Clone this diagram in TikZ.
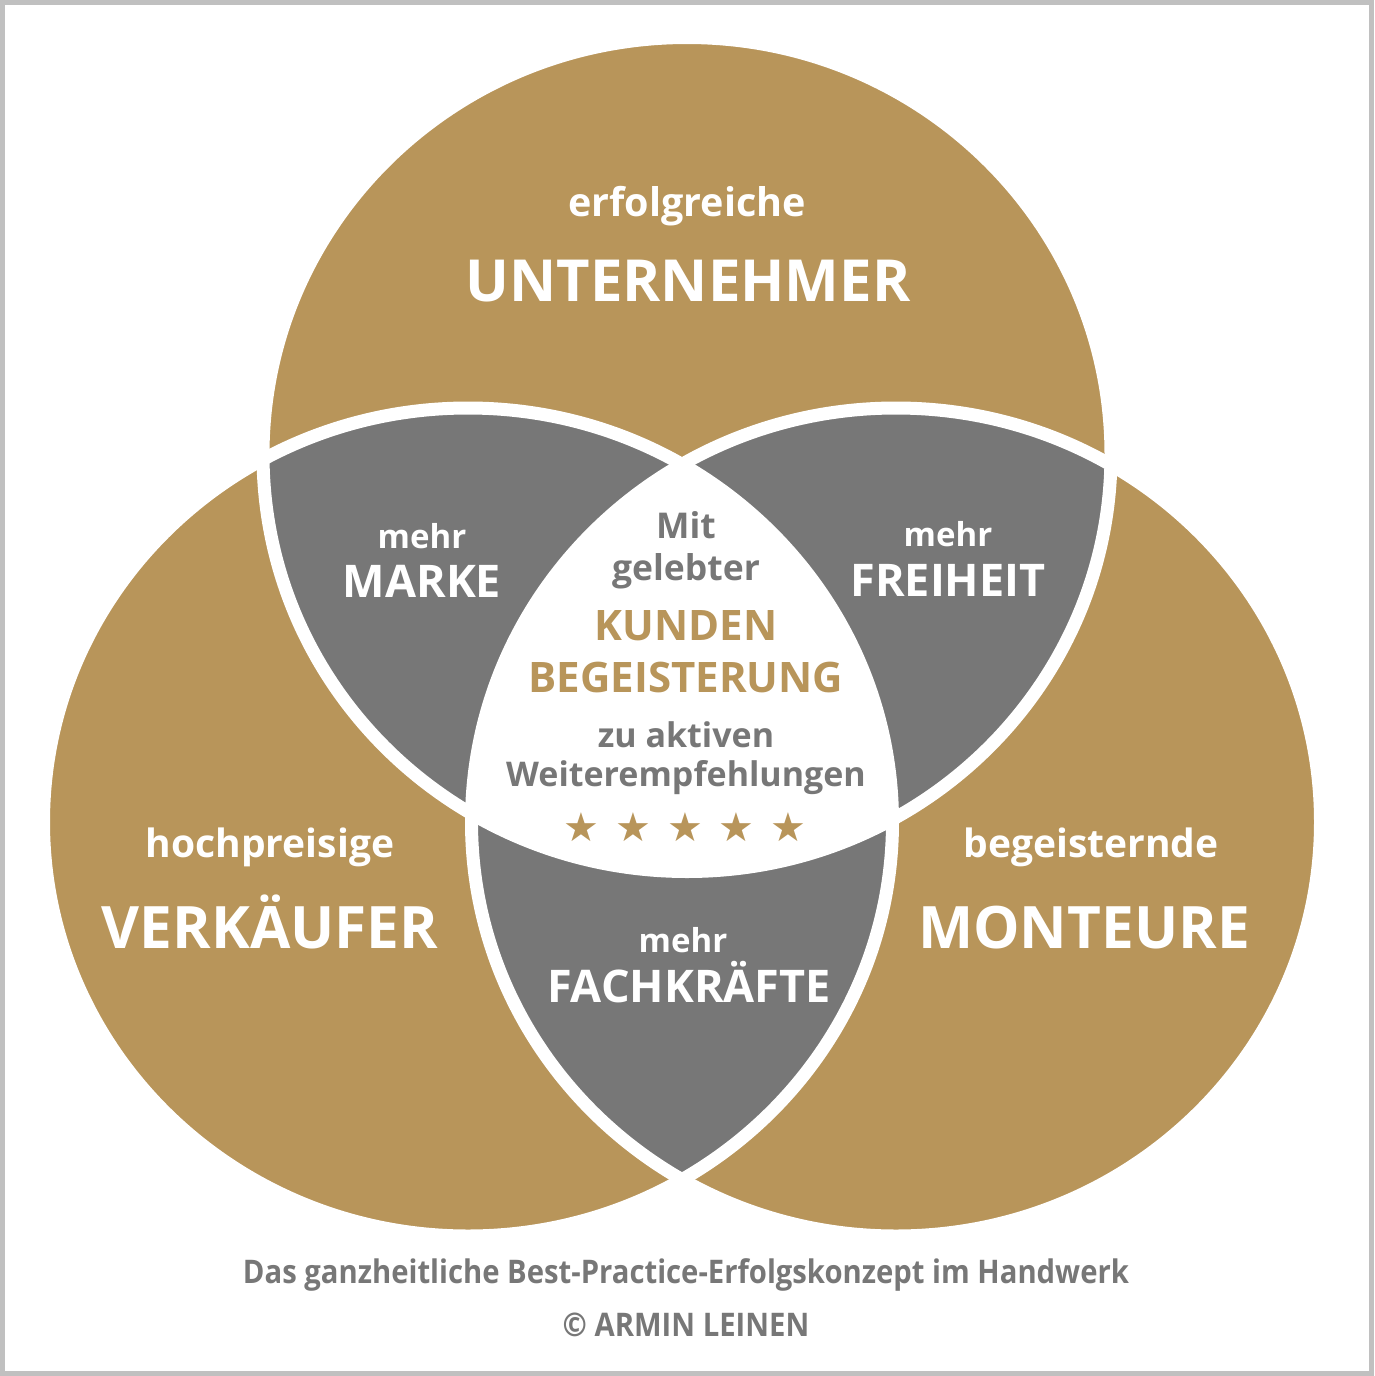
\documentclass[tikz,border=0pt]{standalone}
\usepackage{fontspec}
\setmainfont{Open Sans}
\newfontfamily\narrowfont[FakeStretch=0.9]{Open Sans}
\newfontfamily\starfont{DejaVu Sans}
\newcommand*{\fsize}[1]{\fontsize{#1}{#1}\selectfont}
\definecolor{gold}{HTML}{B8955A}
\definecolor{grey}{HTML}{777777}
\definecolor{framegrey}{HTML}{C0C0C0}
\usepackage{tikz}
\tikzstyle{base}=[x=1pt, y=-1pt, inner sep=0pt, outer sep=0pt]
\tikzstyle{label}=[anchor=base, align=center, font=\bfseries]
\tikzstyle{rim}=[draw=white, line width=13pt]

\begin{document}
\begin{tikzpicture}[base]
    \path [use as bounding box] (0,0) rectangle (1374,1376);
    % circles
        \fill [gold] (687,454.5) ellipse (424 and 417);
        \fill [gold] (468,822) ellipse (424.5 and 414);
        \fill [gold] (896,822) ellipse (424.5 and 414);
    % pairwise overlaps
        \begin{scope}
            \clip (687,454.5) ellipse (424 and 417);
            \fill [grey] (468,822) ellipse (424.5 and 414);
            \fill [grey] (896,822) ellipse (424.5 and 414);
        \end{scope}
        \begin{scope}
            \clip (468,822) ellipse (424.5 and 414);
            \fill [grey] (896,822) ellipse (424.5 and 414);
        \end{scope}
    % centre
        \begin{scope}
            \clip (687,454.5) ellipse (424 and 417);
            \clip (468,822) ellipse (424.5 and 414);
            \fill [white] (896,822) ellipse (424.5 and 414);
        \end{scope}
        \draw [rim] (687,454.5) ellipse (424 and 417);
        \draw [rim] (468,822) ellipse (424.5 and 414);
        \draw [rim] (896,822) ellipse (424.5 and 414);
        \draw [framegrey, line width=5pt] (2.5,2.5) rectangle (1371.5,1373.5);
    % texts
        \node [label, white] (untertop) at (687,216) {\fsize{39.5}erfolgreiche};
        \node [label, white] (unternehmer) at (688,301) {\fsize{58}UNTERNEHMER};
        \node [label, white] (markeTop) at (422,548) {\fsize{33}mehr};
        \node [label, white] (marke) at (422,597) {\fsize{45}MARKE};
        \node [label, white] (freiheitTop) at (948,546) {\fsize{33}mehr};
        \node [label, white] (freiheit) at (948,596) {\fsize{45}FREIHEIT};
        \node [label, grey] (mit) at (686,538) {\fsize{35.5}Mit};
        \node [label, grey] (gelebter) at (686,580) {\fsize{35.5}gelebter};
        \node [label, gold] (kunden) at (686,640) {\fsize{42}KUNDEN};
        \node [label, gold] (begeisterung) at (686,692) {\fsize{42}BEGEISTERUNG};
        \node [label, grey] (aktiven) at (686,747) {\fsize{34}zu aktiven};
        \node [label, grey] (empfehlungen) at (686,786) {\fsize{34}Weiterempfehlungen};
        \node [gold] (stars) at (685,827) {\starfont\fsize{40}★\hskip16pt★\hskip16pt★\hskip16pt★\hskip16pt★};
        \node [label, white] (verkTop) at (270,857) {\fsize{39}hochpreisige};
        \node [label, white] (verkaeufer) at (270,948) {\fsize{58.5}VERKÄUFER};
        \node [label, white] (montTop) at (1091,857) {\fsize{39}begeisternde};
        \node [label, white] (monteure) at (1084,948) {\fsize{58.5}MONTEURE};
        \node [label, white] (fachTop) at (683,952) {\fsize{33}mehr};
        \node [label, white] (fachkraefte) at (689,1002) {\fsize{45}FACHKRÄFTE};
        \node [label, grey] (footer) at (686,1283) {\narrowfont\bfseries\fsize{32.5}Das ganzheitliche Best-Practice-Erfolgskonzept im Handwerk};
        \node [label, grey] (author) at (686,1336) {\narrowfont\bfseries\fsize{32.5}© ARMIN LEINEN};
    \end{tikzpicture}
\end{document}
